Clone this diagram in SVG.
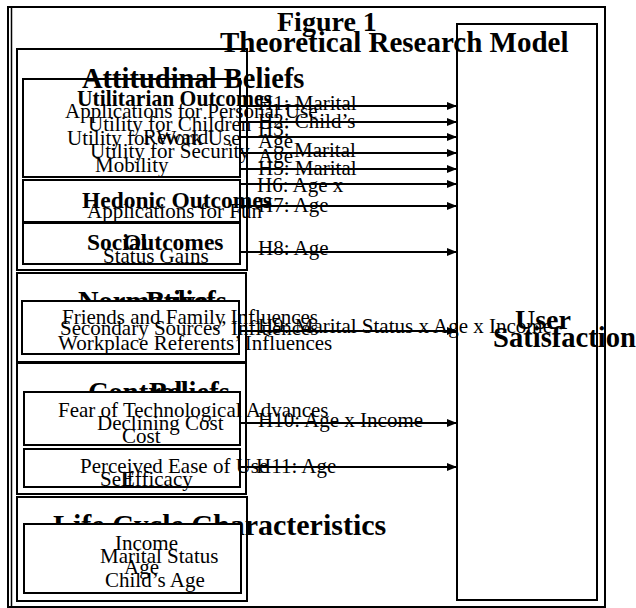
<svg xmlns="http://www.w3.org/2000/svg" width="636" height="608" viewBox="0 0 636 608">
<defs>
<style>
.bx{fill:none;stroke:#000;stroke-width:2}
.wb{fill:#fff;stroke:#000;stroke-width:2}
.hd{font-family:"Liberation Serif","Times New Roman",serif;font-weight:bold;fill:#000}
.tx{font-family:"Liberation Serif","Times New Roman",serif;font-size:21px;fill:#000}
.arr{stroke:#000;stroke-width:2;fill:none;marker-end:url(#ah)}
</style>
<marker id="ah" markerUnits="userSpaceOnUse" markerWidth="10" markerHeight="8" refX="10" refY="4" orient="auto">
<path d="M0,0 L10,4 L0,8 z" fill="#000"/>
</marker>
</defs>
<rect width="636" height="608" fill="#fff"/>
<g id="frame">
<rect class="bx" x="8" y="7" width="597" height="600"/>
<line x1="11.5" y1="7" x2="11.5" y2="607" stroke="#000" stroke-width="1.5"/>
</g>
<g id="title">
<text class="hd" x="277" y="31" font-size="28">Figure 1</text>
<text class="hd" x="220" y="52" font-size="29">Theoretical Research Model</text>
</g>
<g id="attitudinal">
<rect class="bx" x="17" y="49" width="230" height="221"/>
<rect class="bx" x="23" y="79" width="217" height="98"/>
<text class="hd" x="82" y="88" font-size="28.5">Attitudinal Beliefs</text>
<text class="hd" x="77" y="106" font-size="23.5" textLength="195" lengthAdjust="spacingAndGlyphs">Utilitarian Outcomes</text>
<text class="tx" x="65" y="118">Applications for Personal Use</text>
<text class="tx" x="88" y="131">Utility for Children</text>
<text class="tx" x="67" y="145">Utility for Work Use</text>
<text class="tx" x="143" y="144">Reward</text>
<text class="tx" x="90" y="158">Utility for Security</text>
<text class="tx" x="95" y="172">Mobility</text>
<rect class="bx" x="23" y="180" width="217" height="42"/>
<text class="hd" x="82" y="208" font-size="23.5">Hedonic Outcomes</text>
<text class="tx" x="87" y="218">Applications for Fun</text>
<rect class="bx" x="23" y="223" width="217" height="41"/>
<text class="hd" x="87" y="250" font-size="23.5">Social</text>
<text class="hd" x="123" y="250" font-size="23.5">Outcomes</text>
<text class="tx" x="103" y="263">Status Gains</text>
</g>
<g id="normative">
<rect class="bx" x="17" y="273" width="229" height="89"/>
<text class="hd" x="78" y="311" font-size="28.5">Normative</text>
<text class="hd" x="146" y="311" font-size="28.5">Beliefs</text>
<rect class="wb" x="22" y="301" width="217" height="53"/>
<text class="tx" x="62" y="324">Friends and Family Influences</text>
<text class="tx" x="60" y="335">Secondary Sources’ Influences</text>
<text class="tx" x="58" y="350">Workplace Referents’ Influences</text>
</g>
<g id="control">
<rect class="bx" x="17" y="363" width="229" height="131"/>
<text class="hd" x="88" y="402" font-size="28.5">Control</text>
<text class="hd" x="149" y="402" font-size="28.5">Beliefs</text>
<rect class="wb" x="24" y="392" width="216" height="53"/>
<text class="tx" x="58" y="417">Fear of Technological Advances</text>
<text class="tx" x="97" y="430">Declining Cost</text>
<text class="tx" x="122" y="443">Cost</text>
<rect class="wb" x="24" y="449" width="216" height="38"/>
<text class="tx" x="80" y="473">Perceived Ease of Use</text>
<text class="tx" x="100" y="486">Self</text>
<text class="tx" x="122" y="486">Efficacy</text>
</g>
<g id="lifecycle">
<rect class="bx" x="17" y="497" width="230" height="104"/>
<text class="hd" x="53" y="535" font-size="30">Life Cycle Characteristics</text>
<rect class="wb" x="24" y="524" width="217" height="69"/>
<text class="tx" x="115" y="550">Income</text>
<text class="tx" x="100" y="563">Marital Status</text>
<text class="tx" x="124" y="574">Age</text>
<text class="tx" x="105" y="587">Child’s Age</text>
</g>
<g id="satisfaction">
<rect class="bx" x="457" y="24" width="140" height="576"/>
<text class="hd" x="515" y="329" font-size="28">User</text>
<text class="hd" x="493" y="347" font-size="28.6">Satisfaction</text>
</g>
<g id="connectors">
<line class="arr" x1="240" y1="106" x2="457" y2="106"/>
<line class="arr" x1="240" y1="122" x2="457" y2="122"/>
<line class="arr" x1="240" y1="137" x2="457" y2="137"/>
<line class="arr" x1="240" y1="153" x2="457" y2="153"/>
<line class="arr" x1="240" y1="169" x2="457" y2="169"/>
<line class="arr" x1="240" y1="184" x2="457" y2="184"/>
<line class="arr" x1="240" y1="206" x2="457" y2="206"/>
<line class="arr" x1="240" y1="252" x2="457" y2="252"/>
<line class="arr" x1="240" y1="331" x2="457" y2="331"/>
<line class="arr" x1="240" y1="423" x2="457" y2="423"/>
<line class="arr" x1="240" y1="467" x2="457" y2="467"/>
</g>
<g id="labels">
<text class="tx" x="258" y="110">H1: Marital</text>
<text class="tx" x="258" y="128">H2: Child’s</text>
<text class="tx" x="258" y="136">H3:</text>
<text class="tx" x="258" y="148">Age</text>
<text class="tx" x="294" y="157">Marital</text>
<text class="tx" x="258" y="163">Age</text>
<text class="tx" x="258" y="175">H5: Marital</text>
<text class="tx" x="257" y="192">H6: Age x</text>
<text class="tx" x="258" y="212">H7: Age</text>
<text class="tx" x="258" y="255">H8: Age</text>
<text class="tx" x="258" y="333" font-size="19">H9: Marital Status x Age x Income</text>
<text class="tx" x="258" y="427">H10: Age x Income</text>
<text class="tx" x="256" y="473">H11: Age</text>
</g>
</svg>
